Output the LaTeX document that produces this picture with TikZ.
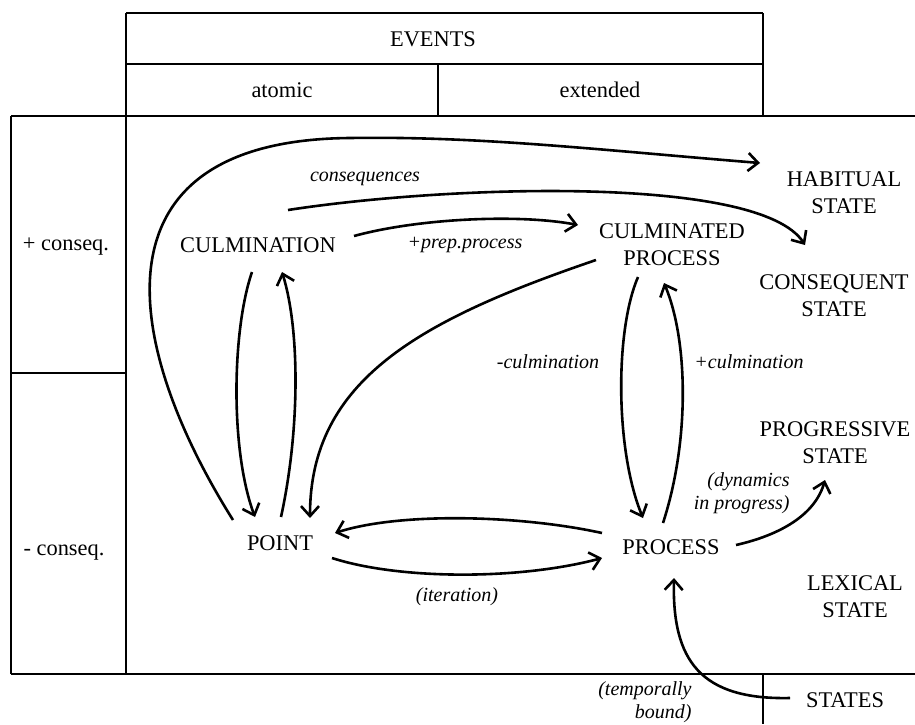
\documentclass[tikz,border=0pt]{standalone}
\usepackage{fontspec}
\setmainfont{Liberation Serif}
\usetikzlibrary{arrows.meta}
\begin{document}
\begin{tikzpicture}[x = 0.5pt, y = -0.5pt,
        state/.style = {font = \fontsize{11.2}{13.5}\selectfont, align = center, inner sep = 0pt},
        note/.style = {font = \fontsize{10}{11.5}\selectfont\itshape, inner sep = 0pt},
        link/.style = {line width = 1.3pt, -{Straight Barb[length = 5pt, width = 9pt]}}]
        \useasboundingbox (0, 0) rectangle (915, 724);
        % table
        \draw[line width = 1pt] (126, 13) -- (763, 13);
        \draw[line width = 0.6pt] (126, 13) -- (126, 674);
        \draw[line width = 0.6pt] (763, 13) -- (763, 116);
        \draw[line width = 0.6pt] (126, 64) -- (763, 64);
        \draw[line width = 0.6pt] (438, 64) -- (438, 116);
        \draw[line width = 1pt] (11, 116) -- (915, 116);
        \draw[line width = 0.6pt] (11, 116) -- (11, 674);
        \draw[line width = 1pt] (11, 373) -- (126, 373);
        \draw[line width = 0.6pt] (11, 674) -- (915, 674);
        \draw[line width = 0.6pt] (763, 674) -- (763, 724);
        \node[state] (events) at (433, 39) {EVENTS};
        \node[state] (atomic) at (282, 90) {atomic};
        \node[state] (extended) at (600, 90) {extended};
        \node[state] (plus) at (66, 247) {+ conseq.};
        \node[state] (minus) at (64, 552) {- conseq.};
        % states
        \foreach \n/\x/\y/\t in {culm/258/245/CULMINATION, cproc/672/245/{CULMINATED\\PROCESS},
                habit/844/193/{HABITUAL\\STATE}, conseq/834/296/{CONSEQUENT\\STATE},
                progr/835/443/{PROGRESSIVE\\STATE}, lexic/855/597/{LEXICAL\\STATE},
                proc/671/547/PROCESS, point/280/543/POINT, states/845/700/STATES}{
            \node[state] (\n) at (\x, \y) {\t};
        }
        \node[note] (lconseq) at (365, 179) {consequences};
        \node[note] (lprep) at (465, 245) {+prep.process};
        \node[note] (lminus) at (548, 362) {-culmination};
        \node[note] (lplus) at (749, 362) {+culmination};
        \node[note, anchor = east, align = right] (ldyn) at (790, 493) {(dynamics\\in progress)};
        \node[note] (liter) at (457, 597) {(iteration)};
        \node[note, anchor = east, align = right] (ltemp) at (692, 702) {(temporally\\bound)};
        % transitions
        \draw[link] ([shift = {(-47, -23)}]point.center) .. controls (120, 340) and (90, 140) .. (350, 138)
            .. controls (480, 136) and (600, 150) .. ([shift = {(-84, -30)}]habit.center);
        \draw[link] ([shift = {(30, -35)}]culm.center) .. controls (450, 185) and (760, 175) .. ([shift = {(-29, -51)}]conseq.center);
        \draw[link] ([shift = {(96, -9)}]culm.center) .. controls (420, 218) and (520, 214) .. ([shift = {(-94, -20)}]cproc.center);
        \draw[link] ([shift = {(-76, 15)}]cproc.center) .. controls (420, 320) and (310, 380) .. ([shift = {(30, -25)}]point.center);
        \draw[link] ([shift = {(-6, 27)}]culm.center) .. controls (232, 330) and (230, 450) .. ([shift = {(-25, -26)}]point.center);
        \draw[link] ([shift = {(1, -26)}]point.center) .. controls (300, 430) and (300, 330) .. ([shift = {(24, 27)}]culm.center);
        \draw[link] ([shift = {(-34, 32)}]cproc.center) .. controls (615, 330) and (615, 450) .. ([shift = {(-28, -29)}]proc.center);
        \draw[link] ([shift = {(-8, -24)}]proc.center) .. controls (690, 440) and (688, 340) .. ([shift = {(-8, 38)}]cproc.center);
        \draw[link] ([shift = {(-69, -14)}]proc.center) .. controls (520, 515) and (400, 512) .. ([shift = {(55, -10)}]point.center);
        \draw[link] ([shift = {(52, 15)}]point.center) .. controls (400, 580) and (520, 580) .. ([shift = {(-69, 11)}]proc.center);
        \draw[link] ([shift = {(65, -2)}]proc.center) .. controls (780, 535) and (815, 515) .. ([shift = {(-10, 37)}]progr.center);
        \draw[link] ([shift = {(-55, -2)}]states.center) .. controls (700, 700) and (672, 660) .. ([shift = {(3, 31)}]proc.center);
    \end{tikzpicture}
\end{document}
